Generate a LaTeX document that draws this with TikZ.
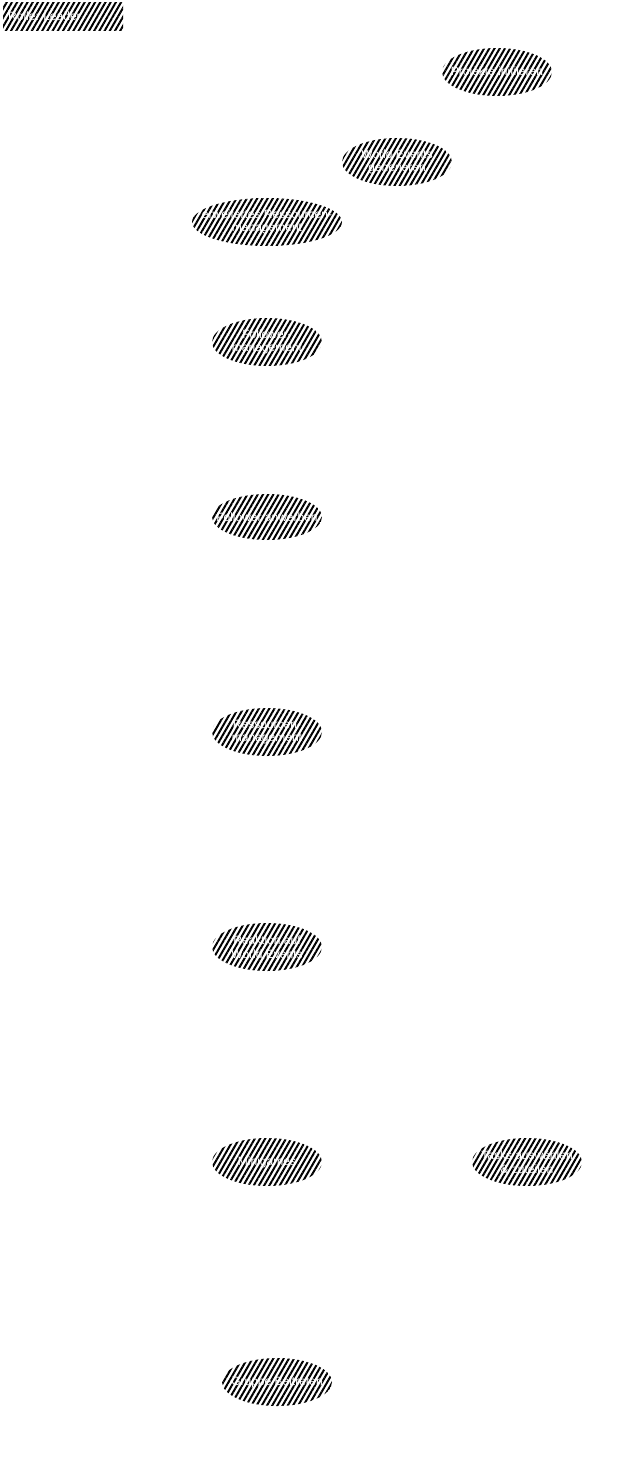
\documentclass[tikz,border=0pt]{standalone}
\usepackage{fontspec}
\setmainfont{Liberation Sans}
\usetikzlibrary{shapes.geometric,patterns.meta}
\tikzset{
  hatch/.style={pattern={Lines[angle=60,distance=4.5pt,line width=2pt]},pattern color=black},
  lbl/.style={text=white,align=center,inner sep=0pt,font=\fontsize{12}{13.5}\selectfont},
  uc/.style={ellipse,hatch,draw=none,inner sep=0pt,minimum width=110pt,minimum height=48pt},
  rolebox/.style={rectangle,hatch,draw=none,inner sep=0pt,minimum width=120pt,minimum height=28pt,anchor=north west}
}
\begin{document}
\begin{tikzpicture}[x=1pt,y=-1pt]
\useasboundingbox (0,0) rectangle (643,1463);
\node[rolebox] (role) at (2,2) {};
\node[lbl,anchor=west] (roletext) at (8,16) {Rolle: Leader};
\node[uc] (proj) at (497,72) {};
\node[lbl] (projt) at (proj) {Projekte initiieren};
\node[uc] (world) at (397,162) {};
\node[lbl] (worldt) at (world) {World Events\\generieren};
\node[uc,minimum width=150pt] (erw) at (267,222) {};
\node[lbl] (erwt) at (erw) {erweitertes Ressourcen-\\management};
\node[uc] (follm) at (267,342) {};
\node[lbl] (follmt) at (follm) {Follower-\\management};
\node[uc,minimum height=46pt] (follw) at (267,517) {};
\node[lbl] (follwt) at (follw) {Follower anwerben};
\node[uc] (ress) at (267,732) {};
\node[lbl] (resst) at (ress) {Ressourcen-\\management};
\node[uc] (react) at (267,947) {};
\node[lbl] (reactt) at (react) {Reaktion auf\\World Events};
\node[uc] (mini) at (267,1162) {};
\node[lbl] (minit) at (mini) {Minigames};
\node[uc] (tasks) at (527,1162) {};
\node[lbl] (taskst) at (tasks) {Tasks auswählen\\\& zuteilen};
\node[uc] (join) at (277,1382) {};
\node[lbl] (joint) at (join) {Gruppe Beitreten};
\end{tikzpicture}
\end{document}
